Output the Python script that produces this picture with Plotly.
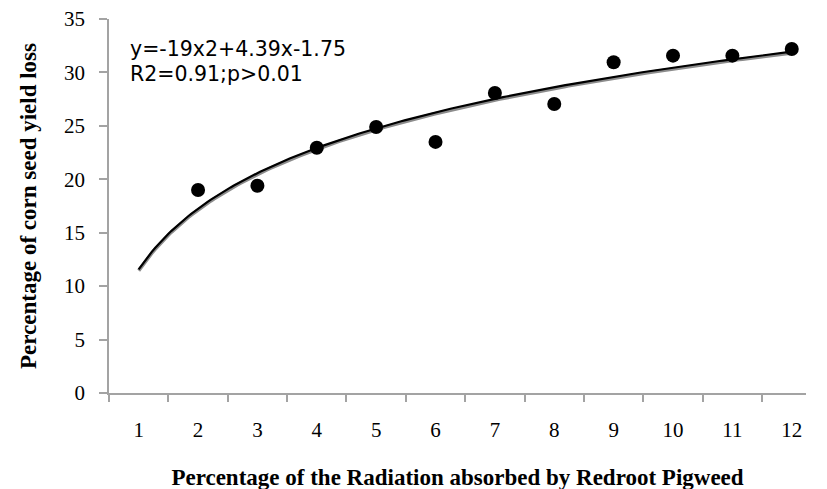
import numpy as np
import plotly.graph_objects as go

# Data
x_labels = [str(i) for i in range(1, 13)]
x_vals = [2, 3, 4, 5, 6, 7, 8, 9, 10, 11, 12]
yield_loss = [19.0, 19.4, 22.95, 24.9, 23.5, 28.07, 27.05, 30.95, 31.57, 31.57, 32.19]
y_ticks = [0, 5, 10, 15, 20, 25, 30, 35]

eq_line1 = "y=-19x2+4.39x-1.75"
eq_line2 = "R2=0.91;p>0.01"

# Logarithmic trend line fitted to the data (as in the spreadsheet chart)
a, b = np.polyfit(np.log(x_vals), yield_loss, 1)
xs = np.linspace(1, 12, 200)
ys = a * np.log(xs) + b

axis_grey = "#a3a3a3"
serif = "Liberation Serif, Times New Roman, serif"

fig = go.Figure()
# shadow of trend line
fig.add_trace(go.Scatter(x=xs, y=ys - 0.12, mode="lines",
                         line=dict(color="#8c8c8c", width=3.5),
                         hoverinfo="skip", showlegend=False))
fig.add_trace(go.Scatter(x=xs, y=ys, mode="lines",
                         line=dict(color="#000000", width=2.2),
                         hoverinfo="skip", showlegend=False))
fig.add_trace(go.Scatter(x=x_vals, y=yield_loss, mode="markers",
                         marker=dict(color="#000000", size=14),
                         showlegend=False))

eq_font = dict(family="DejaVu Sans, sans-serif", size=20.5, color="#000")
for txt, shift in [(eq_line1, -30), (eq_line2, -55)]:
    fig.add_annotation(x=0, y=1, xref="paper", yref="paper", xshift=19, yshift=shift,
                       text=txt, showarrow=False,
                       xanchor="left", yanchor="middle", align="left", font=eq_font)

fig.update_layout(
    width=827, height=489,
    margin=dict(l=101, r=29, t=11, b=104),
    paper_bgcolor="white", plot_bgcolor="white",
    xaxis=dict(
        range=[0.5, 12.24], automargin=False,
        tickmode="array", tickvals=list(range(1, 13)), ticktext=x_labels,
        ticks="outside", ticklen=17, tickcolor="rgba(0,0,0,0)",
        showline=True, linecolor=axis_grey, linewidth=1.5,
        showgrid=False, zeroline=False,
        tickfont=dict(family=serif, size=21, color="#000"),
        minor=dict(tickmode="array", tickvals=[i + 0.5 for i in range(0, 12)],
                   ticks="outside", ticklen=7, tickcolor=axis_grey, tickwidth=1.5,
                   showgrid=False),
        title=dict(text="<b>Percentage of the Radiation absorbed by Redroot Pigweed</b>",
                   font=dict(family=serif, size=23, color="#000"), standoff=28),
    ),
    yaxis=dict(
        range=[0, 35], automargin=False,
        tickmode="array", tickvals=y_ticks,
        ticks="outside", ticklen=8, tickcolor=axis_grey, tickwidth=1.5,
        ticklabelstandoff=10, ticklabeloverflow="allow",
        showline=True, linecolor=axis_grey, linewidth=1.5,
        showgrid=False, zeroline=False,
        tickfont=dict(family=serif, size=21, color="#000"),
        title=dict(text="<b>Percentage of corn seed yield loss</b>",
                   font=dict(family=serif, size=23, color="#000"), standoff=21),
    ),
)

fig.write_html("out.html")
